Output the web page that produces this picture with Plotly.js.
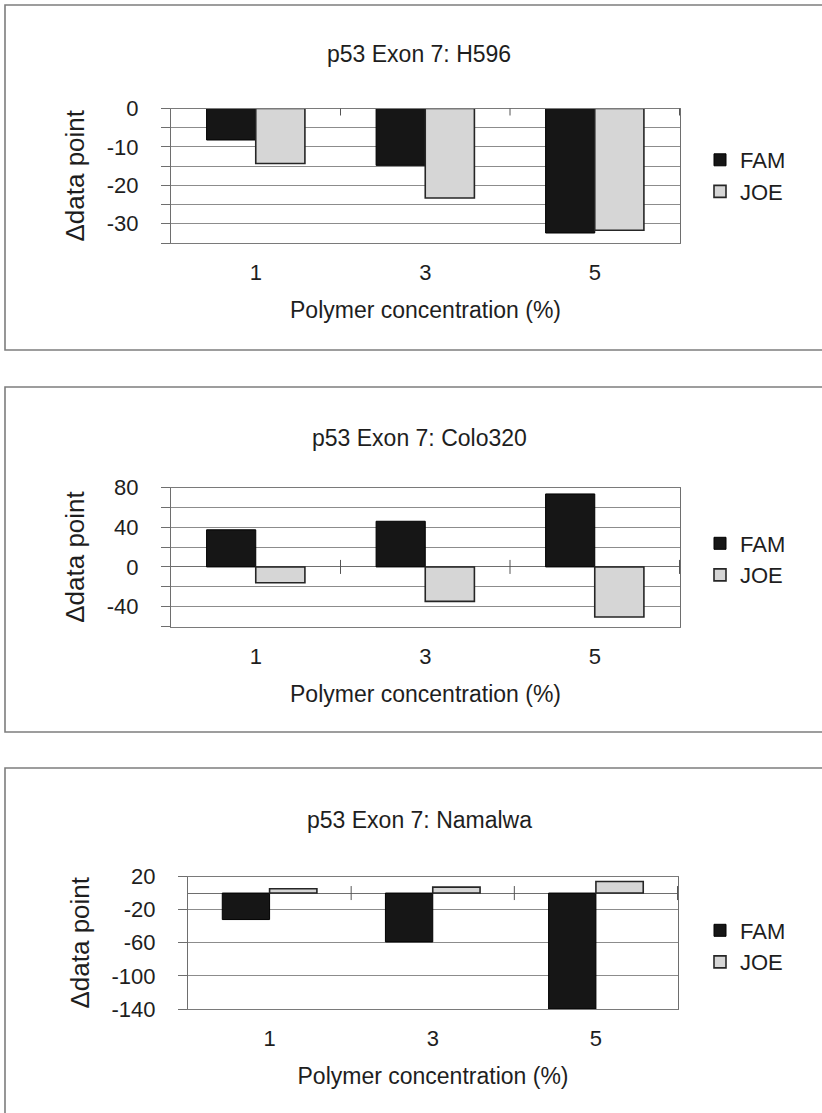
<!DOCTYPE html>
<html>
<head>
<meta charset="utf-8">
<script src="https://cdn.plot.ly/plotly-3.0.1.min.js"></script>
<style>
  html, body { margin: 0; padding: 0; background: #ffffff; }
  #chart { width: 822px; height: 1113px; }
</style>
</head>
<body>
<div id="chart"></div>
<script>
// ---- Data ----
const categories = ['1', '3', '5'];            // Polymer concentration (%)
const seriesNames = ['FAM', 'JOE'];

const h596Title = 'p53 Exon 7: H596';
const h596FAM = [-8.2, -14.8, -32.4];
const h596JOE = [-14.3, -23.3, -31.7];
const h596TickVals = [0, -10, -20, -30];
const h596TickText = ['0', '-10', '-20', '-30'];

const colo320Title = 'p53 Exon 7: Colo320';
const colo320FAM = [37.4, 46, 73.5];
const colo320JOE = [-16, -34.7, -50.4];
const colo320TickVals = [80, 40, 0, -40];
const colo320TickText = ['80', '40', '0', '-40'];

const namalwaTitle = 'p53 Exon 7: Namalwa';
const namalwaFAM = [-32, -59, -140];
const namalwaJOE = [5.2, 7.2, 14];
const namalwaTickVals = [20, -20, -60, -100, -140];
const namalwaTickText = ['20', '-20', '-60', '-100', '-140'];

const xTitle = 'Polymer concentration (%)';
const yTitle = 'Δdata point';

// ---- Styling ----
const FONT = 'Liberation Sans, Arial, sans-serif';
const TXT = '#1e1e1e';
const W = 822, H = 1113;
const px = v => v / W;
const py = v => 1 - v / H;

const famStyle = { color: '#161616', line: { color: '#000000', width: 1 } };
const joeStyle = { color: '#d6d6d6', line: { color: '#262626', width: 1.6 } };

function traces(fam, joe, n, legendId) {
  const xa = n === 1 ? 'x' : 'x' + n;
  const ya = n === 1 ? 'y' : 'y' + n;
  return [
    { type: 'bar', name: seriesNames[0], x: categories, y: fam, xaxis: xa, yaxis: ya,
      marker: famStyle, legend: legendId },
    { type: 'bar', name: seriesNames[1], x: categories, y: joe, xaxis: xa, yaxis: ya,
      marker: joeStyle, legend: legendId }
  ];
}

const data = [].concat(
  traces(h596FAM, h596JOE, 1, 'legend'),
  traces(colo320FAM, colo320JOE, 2, 'legend2'),
  traces(namalwaFAM, namalwaJOE, 3, 'legend3')
);

function xaxis(domain, anchor) {
  return {
    type: 'category', domain: domain, anchor: anchor,
    showgrid: false, zeroline: false,
    showline: true, mirror: true, linecolor: '#7a7a7a', linewidth: 1,
    ticks: '', ticklabelstandoff: 10,
    tickfont: { family: FONT, size: 22, color: TXT },
    title: { text: xTitle, font: { family: FONT, size: 23, color: TXT }, standoff: 17 },
    fixedrange: true
  };
}

function yaxis(domain, anchor, range, tickvals, ticktext, minor) {
  const ax = {
    domain: domain, anchor: anchor, range: range,
    tickmode: 'array', tickvals: tickvals, ticktext: ticktext,
    showgrid: true, gridcolor: '#8c8c8c', gridwidth: 1,
    zeroline: true, zerolinecolor: '#6e6e6e', zerolinewidth: 1,
    showline: true, mirror: true, linecolor: '#6e6e6e', linewidth: 1,
    ticks: 'outside', ticklen: 9, tickcolor: '#6e6e6e', ticklabelstandoff: 18,
    tickfont: { family: FONT, size: 22, color: TXT },
    title: { text: yTitle, font: { family: FONT, size: 26, color: TXT }, standoff: 14 },
    fixedrange: true
  };
  if (minor) {
    ax.minor = { tickmode: 'linear', dtick: minor, tick0: 0, showgrid: true,
                 gridcolor: '#8c8c8c', gridwidth: 1, ticks: 'outside', ticklen: 9,
                 tickcolor: '#6e6e6e' };
  }
  return ax;
}

// Category-boundary tick marks sitting on the y = 0 line
function zeroTicks(n) {
  const xa = n === 1 ? 'x' : 'x' + n;
  const ya = n === 1 ? 'y' : 'y' + n;
  return [0.5, 1.5, 2.5].map(b => ({
    type: 'line', xref: xa, yref: ya, ysizemode: 'pixel', yanchor: 0,
    x0: b, x1: b, y0: -7, y1: 7, line: { color: '#555555', width: 1 }
  }));
}

function frame(top, bottom) {
  return { type: 'rect', xref: 'paper', yref: 'paper', layer: 'below',
           x0: px(5), x1: 1.05, y0: bottom, y1: py(top),
           line: { color: '#7d7d7d', width: 1.6 }, fillcolor: 'rgba(0,0,0,0)' };
}

function legendBox(yc) {
  return { x: px(700), y: yc, xanchor: 'left', yanchor: 'middle',
           bgcolor: 'rgba(0,0,0,0)', borderwidth: 0, tracegroupgap: 0,
           font: { family: FONT, size: 22, color: TXT } };
}

function panelTitle(text, yc) {
  return { text: text, xref: 'paper', yref: 'paper', x: px(419), y: py(yc),
           xanchor: 'center', yanchor: 'middle', showarrow: false,
           font: { family: FONT, size: 23, color: TXT } };
}

const layout = {
  width: W, height: H,
  margin: { l: 0, r: 0, t: 0, b: 0, pad: 0 },
  paper_bgcolor: '#ffffff', plot_bgcolor: '#ffffff',
  barmode: 'group', bargap: 0.42, bargroupgap: 0,
  showlegend: true,
  font: { family: FONT, color: TXT },

  xaxis:  xaxis([px(171), px(680)], 'y'),
  yaxis:  yaxis([py(243), py(108.5)], 'x', [-35, 0], h596TickVals, h596TickText, 5),

  xaxis2: xaxis([px(171), px(680)], 'y2'),
  yaxis2: yaxis([py(626.5), py(487.5)], 'x2', [-60, 80], colo320TickVals, colo320TickText, 20),

  xaxis3: xaxis([px(188), px(678)], 'y3'),
  yaxis3: yaxis([py(1009), py(876.5)], 'x3', [-140, 20], namalwaTickVals, namalwaTickText, null),

  legend:  legendBox(py(176)),
  legend2: legendBox(py(559.5)),
  legend3: legendBox(py(946.5)),

  annotations: [
    panelTitle(h596Title, 54),
    panelTitle(colo320Title, 438),
    panelTitle(namalwaTitle, 820)
  ],

  shapes: [
    frame(5, py(350)),
    frame(387, py(732)),
    frame(768, -0.05)
  ].concat(zeroTicks(1), zeroTicks(2), zeroTicks(3))
};

Plotly.newPlot('chart', data, layout, { staticPlot: true, displayModeBar: false });
</script>
</body>
</html>
